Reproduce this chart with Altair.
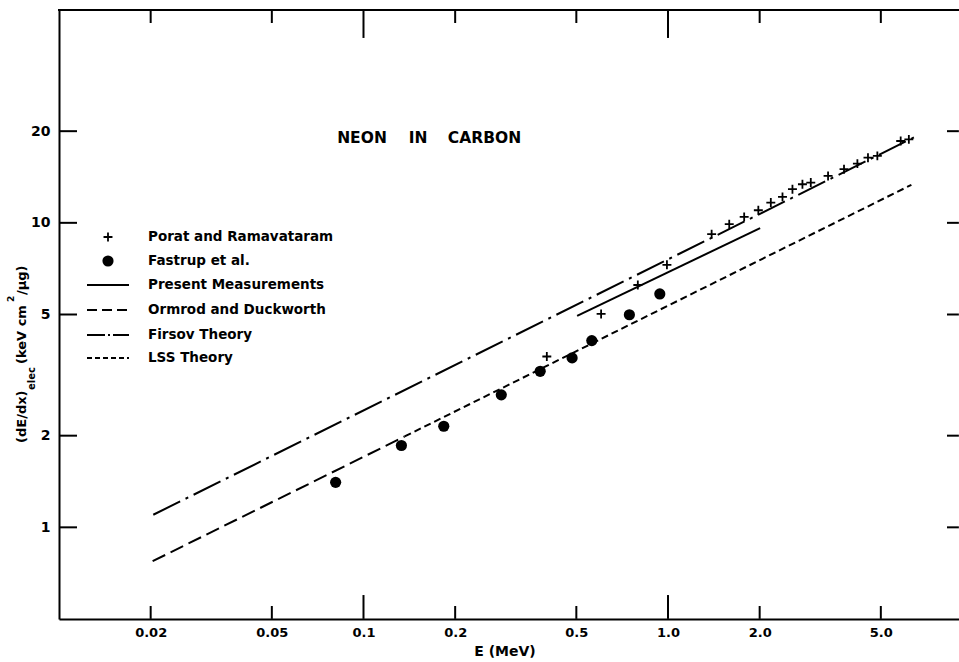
import altair as alt
import pandas as pd

# ---------------- data ----------------
porat_E = [0.400, 0.603, 0.796, 0.992, 1.391, 1.589, 1.779, 1.98, 2.176, 2.377,
           2.563, 2.764, 2.944, 3.355, 3.785, 4.188, 4.537, 4.870, 5.81, 6.18]
porat_S = [3.64, 5.02, 6.25, 7.28, 9.18, 9.90, 10.46, 11.0, 11.66, 12.17,
           12.90, 13.39, 13.56, 14.26, 15.0, 15.65, 16.37, 16.59, 18.57, 18.8]

fastrup_E = [0.0810, 0.1332, 0.1835, 0.2835, 0.3804, 0.4843, 0.5620, 0.7468, 0.940]
fastrup_S = [1.405, 1.857, 2.148, 2.723, 3.254, 3.601, 4.104, 4.99, 5.84]

present_E = [0.503, 2.007]
present_S = [4.95, 9.61]
ormrod_E = [0.0203, 0.1365]
ormrod_S = [0.774, 1.988]
firsov_E = [0.0204, 6.67]
firsov_S = [1.10, 19.44]
lss_E = [0.1365, 6.30]
lss_S = [1.988, 13.33]

x_ticks_minor = [0.02, 0.05, 0.2, 0.5, 2.0, 5.0]
x_ticks_major = [0.1, 1.0]
x_tick_labels = [0.02, 0.05, 0.1, 0.2, 0.5, 1.0, 2.0, 5.0]
y_ticks = [1, 2, 5, 10, 20]

legend_labels = ["Porat and Ramavataram", "Fastrup et al.", "Present Measurements",
                 "Ormrod and Duckworth", "Firsov Theory", "LSS Theory"]
title_words = ["NEON", "IN", "CARBON"]

# ---------------- layout ----------------
W, H = 900, 609
FONT = "DejaVu Sans"
X_MIN, X_MAX = 0.01, 9.03
Y_MIN, Y_MAX = 0.5, 50
PXD_X, PXD_Y = 304.5, 305.0          # pixels per decade on each axis
xs = alt.Scale(type="log", domain=[X_MIN, X_MAX], nice=False)
ys = alt.Scale(type="log", domain=[Y_MIN, Y_MAX], nice=False)

xax = alt.Axis(values=x_tick_labels, ticks=False, grid=False, domainColor="black",
               domainWidth=2, labelFont=FONT, labelFontWeight="bold", labelFontSize=13,
               labelColor="black", labelPadding=7, title=None, labelFlush=False,
               labelOverlap=False,
               labelExpr="datum.value >= 1 ? format(datum.value, '.1f') : format(datum.value, '~g')")
yax = alt.Axis(values=y_ticks, ticks=False, grid=False, domainColor="black",
               domainWidth=2, labelFont=FONT, labelFontWeight="bold", labelFontSize=14,
               labelColor="black", labelPadding=9, title=None, labelFlush=False,
               labelOverlap=False, labelExpr="format(datum.value, '~g')")

one = pd.DataFrame({"a": [0]})


def X(f):
    return alt.X(f + ":Q", scale=xs, axis=xax)


def Y(f):
    return alt.Y(f + ":Q", scale=ys, axis=yax)


def fy(px):
    return 10 ** (px / PXD_Y)


def fx(px):
    return 10 ** (px / PXD_X)


layers = []

# ---------------- inward ticks: short segments on the frame edges (drawn first) ----------------
seg_E, seg_S, seg_id = [], [], []
k = 0
for vals, length_b, length_t in [(x_ticks_minor, 13, 13), (x_ticks_major, 24, 28)]:
    for v in vals:
        seg_E += [v, v]
        seg_S += [Y_MIN * 1.001, Y_MIN * fy(length_b)]
        seg_id += [k, k]
        k += 1
        seg_E += [v, v]
        seg_S += [Y_MAX / fy(length_t), Y_MAX / 1.001]
        seg_id += [k, k]
        k += 1
for v in y_ticks:
    seg_E += [X_MIN * 1.001, X_MIN * fx(18)]
    seg_S += [v, v]
    seg_id += [k, k]
    k += 1
    seg_E += [X_MAX / fx(12), X_MAX / 1.001]
    seg_S += [v, v]
    seg_id += [k, k]
    k += 1

layers.append(alt.Chart(pd.DataFrame({"E": seg_E, "S": seg_S, "k": seg_id})).mark_line(
    color="black", strokeWidth=2, strokeCap="butt").encode(
    x=X("E"), y=Y("S"), detail="k:N"))


# ---------------- curves and points ----------------
def line_layer(E, S, dash=None):
    df = pd.DataFrame({"E": E, "S": S})
    kw = dict(color="black", strokeWidth=2, strokeCap="butt")
    if dash:
        kw["strokeDash"] = dash
    return alt.Chart(df).mark_line(**kw).encode(x=X("E"), y=Y("S"))


DASH_ORMROD = [14, 6]
DASH_LSS = [7, 4]
DASH_FIRSOV = [30, 6, 3, 6]
CROSS = "M-1,0L1,0M0,-1L0,1"

layers.append(line_layer(firsov_E, firsov_S, DASH_FIRSOV))
layers.append(line_layer(ormrod_E, ormrod_S, DASH_ORMROD))
layers.append(line_layer(lss_E, lss_S, DASH_LSS))
layers.append(line_layer(present_E, present_S))

layers.append(alt.Chart(pd.DataFrame({"E": fastrup_E, "S": fastrup_S})).mark_circle(
    size=125, color="black", opacity=1).encode(x=X("E"), y=Y("S")))
layers.append(alt.Chart(pd.DataFrame({"E": porat_E, "S": porat_S})).mark_point(
    shape=CROSS, size=80, strokeWidth=1.8, color="black", filled=False, opacity=1
).encode(x=X("E"), y=Y("S")))

# ---------------- top frame line ----------------
layers.append(alt.Chart(one).mark_rule(color="black", strokeWidth=2).encode(
    x=alt.value(-1), x2=alt.value(W), y=alt.value(0)))


# ---------------- texts ----------------
def txt(s, x, y, size=13, angle=0, align="left", baseline="middle"):
    kw = dict(text=s, font=FONT, fontWeight="bold", fontSize=size, color="black",
              align=align, baseline=baseline)
    if angle:
        kw["angle"] = angle
    return alt.Chart(one).mark_text(**kw).encode(x=alt.value(x), y=alt.value(y))


for word, cx in zip(title_words, [303, 359, 425.5]):
    layers.append(txt(word, cx, 128, size=15.5, align="center"))
layers.append(txt("E (MeV)", 446, 642, size=14, align="center"))

# y title pieces (rotated)
layers.append(txt("(dE/dx)", -37, 433, size=13, angle=270))
layers.append(txt("elec", -27, 380, size=10, angle=270))
layers.append(txt("(keV  cm", -37, 354, size=13, angle=270))
layers.append(txt("2", -48, 292, size=9, angle=270))
layers.append(txt("/μg)", -37, 285, size=13, angle=270))

# ---------------- legend ----------------
LX_SYM, LX0, LX1, LX_TXT = 49, 28, 70, 89
rows = [227, 251, 275, 300, 325, 348]
for lab, ry in zip(legend_labels, rows):
    layers.append(txt(lab, LX_TXT, ry, size=13.5))
layers.append(alt.Chart(one).mark_point(shape=CROSS, size=80, strokeWidth=1.8, color="black",
                                        filled=False, opacity=1).encode(
    x=alt.value(LX_SYM), y=alt.value(rows[0])))
layers.append(alt.Chart(one).mark_circle(size=125, color="black", opacity=1).encode(
    x=alt.value(LX_SYM), y=alt.value(rows[1])))
for ry, dash in zip(rows[2:], [None, [10, 5], [18, 3, 2, 3], [5, 3]]):
    kw = dict(color="black", strokeWidth=2, strokeCap="butt")
    if dash:
        kw["strokeDash"] = dash
    layers.append(alt.Chart(one).mark_rule(**kw).encode(
        x=alt.value(LX0), x2=alt.value(LX1), y=alt.value(ry)))

chart = alt.layer(*layers).properties(
    width=W, height=H,
    padding={"left": 59, "top": 10, "right": 0, "bottom": 43},
    autosize=alt.AutoSizeParams(type="none"),
    background="white",
).configure_view(stroke=None)

chart.save("out.html", embed_options={"renderer": "svg", "actions": False})
